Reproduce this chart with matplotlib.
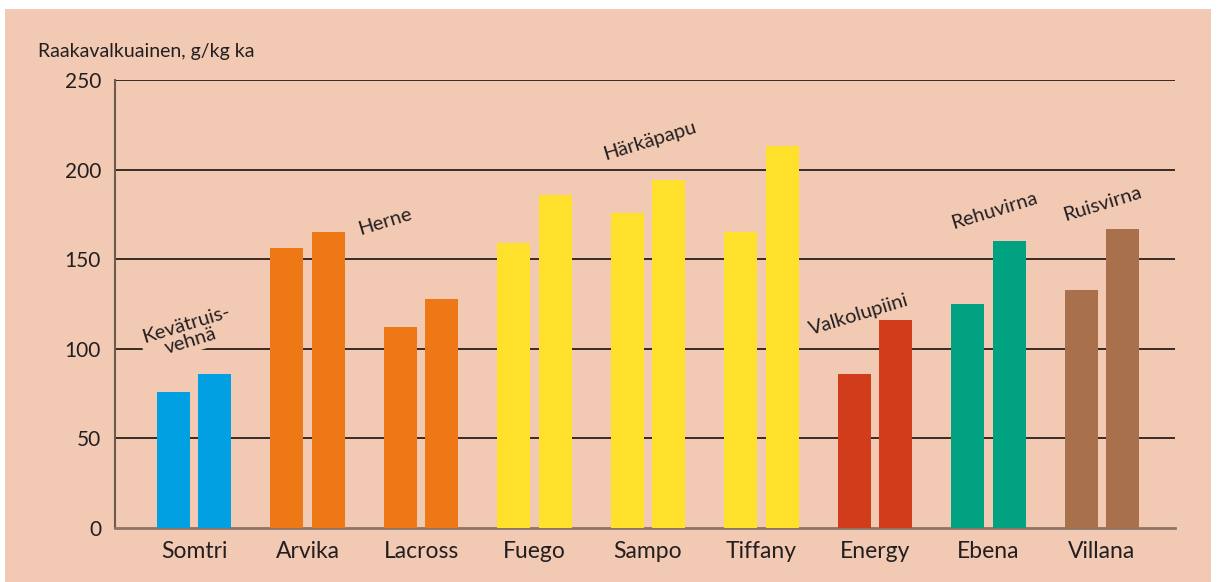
import numpy as np
from matplotlib import pyplot as plt
from matplotlib.patches import Rectangle

plt.rcParams['font.family'] = ['Lato', 'DejaVu Sans']

# data
varieties = ['Somtri', 'Arvika', 'Lacross', 'Fuego', 'Sampo', 'Tiffany', 'Energy', 'Ebena', 'Villana']
val_a = [76, 156, 112, 159, 176, 165, 86, 125, 133]
val_b = [86, 165, 128, 186, 194, 213, 116, 160, 167]
bar_colors = ['#00a0e3', '#ee7716', '#ee7716', '#ffe02a', '#ffe02a', '#ffe02a',
              '#d13d1a', '#00a282', '#a8714b']
yticks = [0, 50, 100, 150, 200, 250]
ylabel = 'Raakavalkuainen, g/kg ka'

# crop group labels: (text, x, y)
groups = [
    ('Kevätruis-\nvehnä', -0.05, 109),
    ('Herne', 1.68, 171),
    ('Härkäpapu', 4.02, 216),
    ('Valkolupiini', 5.86, 119),
    ('Rehuvirna', 7.05, 177),
    ('Ruisvirna', 8.0, 181),
]

bg = '#f2c9b3'
ink = '#231f20'

fig = plt.figure(figsize=(12.18, 5.82), dpi=100, facecolor='white')
fig.patches.append(Rectangle((5/1218, 0), 1206/1218, 1-9/582, transform=fig.transFigure,
                             facecolor=bg, edgecolor='none', zorder=-10))
ax = fig.add_axes([115/1218, 1-528/582, 1060/1218, 448/582])
ax.set_facecolor(bg)

x = np.arange(len(varieties))
w = 0.29
off = 0.183
ax.bar(x-off, val_a, w, color=bar_colors, zorder=3)
ax.bar(x+off, val_b, w, color=bar_colors, zorder=3)

for yv in yticks[1:]:
    ax.axhline(yv, color='#2a1f1a', linewidth=1.3, zorder=1)

ax.set_ylim(0, 250)
ax.set_xlim(-0.696, 8.643)
ax.set_yticks(yticks)
ax.set_xticks(x)
ax.set_xticklabels(varieties, fontsize=16.5, color=ink)
ax.tick_params(axis='y', labelsize=15, colors=ink, length=0, pad=10)
ax.tick_params(axis='x', length=0, pad=9)

for s in ['top', 'right']:
    ax.spines[s].set_visible(False)
ax.spines['left'].set_color('#6b5a50')
ax.spines['left'].set_linewidth(1.5)
ax.spines['bottom'].set_color('#8a7566')
ax.spines['bottom'].set_linewidth(2)

fig.text(38/1218, 1-52/582, ylabel, fontsize=14, color=ink, va='center', ha='left')

for txt, gx, gy in groups:
    ax.text(gx, gy, txt, rotation=17, fontsize=14.5, color=ink, ha='center', va='center',
            linespacing=1.05, rotation_mode='anchor', zorder=4,
            bbox=dict(facecolor=bg, edgecolor='none', pad=2) if '\n' in txt else None)

plt.savefig('out.png', dpi=100, facecolor=fig.get_facecolor())
